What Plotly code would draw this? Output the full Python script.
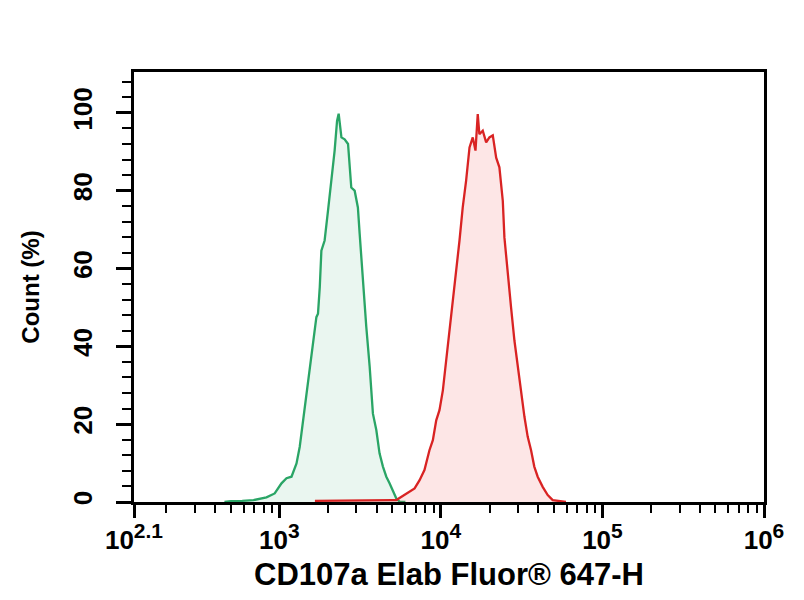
import plotly.graph_objects as go

# histogram outlines, x as log10 of intensity, y in %
green_log = [2.66, 2.70, 2.77, 2.84, 2.92, 2.971, 3.013, 3.044, 3.075, 3.106, 3.126, 3.147, 3.167,
             3.188, 3.208, 3.229, 3.239, 3.250, 3.260, 3.280, 3.301, 3.322, 3.342, 3.357, 3.367,
             3.384, 3.404, 3.425, 3.445, 3.466, 3.486, 3.497, 3.517, 3.538, 3.559, 3.579, 3.600,
             3.620, 3.641, 3.662, 3.682, 3.703, 3.724, 3.744, 3.78]
green_pct = [0.0, 0.2, 0.3, 0.5, 1.2, 2.2, 4.8, 6.1, 6.5, 9.9, 14.2, 21.0, 27.9,
             34.7, 41.5, 47.5, 48.4, 55.2, 64.6, 67.2, 74.9, 82.6, 90.3, 97.9, 99.8,
             93.7, 93.2, 92.0, 80.8, 80.0, 75.7, 68.9, 56.1, 45.0, 34.7, 22.7, 18.5,
             12.5, 9.1, 6.5, 4.8, 2.6, 0.9, 0.1, 0.0]

red_log = [3.22, 3.40, 3.55, 3.70, 3.724, 3.785, 3.837, 3.868, 3.898, 3.929, 3.950, 3.971, 3.991,
           4.012, 4.033, 4.053, 4.074, 4.094, 4.115, 4.135, 4.156, 4.177, 4.197, 4.214, 4.222,
           4.228, 4.238, 4.259, 4.280, 4.300, 4.321, 4.342, 4.362, 4.383, 4.393, 4.413, 4.434,
           4.455, 4.475, 4.496, 4.517, 4.537, 4.558, 4.578, 4.599, 4.630, 4.661, 4.692, 4.733,
           4.774]
red_pct = [0.3, 0.4, 0.6, 0.5, 0.5, 2.2, 3.5, 5.6, 8.2, 13.3, 15.9, 21.0, 23.6,
           28.7, 36.4, 43.2, 51.8, 58.6, 67.2, 75.7, 82.6, 91.1, 93.7, 90.3, 95.4,
           99.7, 94.5, 95.4, 92.4, 93.7, 94.2, 88.5, 86.0, 77.4, 68.0, 58.6, 50.1,
           41.5, 34.7, 27.9, 21.9, 16.8, 13.3, 9.1, 6.5, 3.9, 1.8, 0.5, 0.3,
           0.0]

major_exp = [2.1, 3, 4, 5, 6]
major_sup = ['2.1', '3', '4', '5', '6']
y_ticks = [0, 20, 40, 60, 80, 100]

minor_x = [m * 10 ** d for d in range(2, 6) for m in range(2, 10) if m * 10 ** d > 10 ** 2.1]
major_text = ['10<sup><span style="font-size:21px">%s</span></sup>' % s for s in major_sup]

fig = go.Figure()
fig.add_trace(go.Scatter(x=[10 ** v for v in green_log], y=green_pct, mode='lines',
                         line=dict(color='#2aa566', width=2.3), fill='tozeroy',
                         fillcolor='rgba(47,168,106,0.10)'))
fig.add_trace(go.Scatter(x=[10 ** v for v in red_log], y=red_pct, mode='lines',
                         line=dict(color='#d92323', width=2.3), fill='tozeroy',
                         fillcolor='rgba(240,60,60,0.13)'))

tickfont = dict(family='Liberation Sans', size=26, color='black', weight='bold')
fig.update_layout(
    width=804, height=600,
    margin=dict(l=126, r=48, t=64, b=106),
    plot_bgcolor='white', paper_bgcolor='white',
    showlegend=False,
    xaxis=dict(type='log', range=[2.1, 6],
               tickmode='array', tickvals=[10 ** v for v in major_exp], ticktext=major_text,
               ticks='outside', ticklen=13, tickwidth=2.5, tickcolor='black',
               linecolor='black', linewidth=2.5, mirror=True, showgrid=False, zeroline=False,
               tickfont=tickfont, ticklabelstandoff=0,
               minor=dict(tickmode='array', tickvals=minor_x, ticks='outside', ticklen=8,
                          tickwidth=1.5, tickcolor='black', showgrid=False),
               title=dict(text='CD107a Elab Fluor® 647-H', standoff=10,
                          font=dict(family='Liberation Sans', size=31, color='black', weight='bold'))),
    yaxis=dict(range=[0, 110.5], tickmode='array', tickvals=y_ticks,
               ticks='outside', ticklen=15, tickwidth=2.5, tickcolor='black',
               linecolor='black', linewidth=2.5, mirror=True, showgrid=False, zeroline=False,
               tickfont=tickfont, tickangle=-90, ticklabelstandoff=14,
               minor=dict(dtick=4, ticks='outside', ticklen=9, tickwidth=1.5,
                          tickcolor='black', showgrid=False),
               title=dict(text='Count (%)', standoff=22,
                          font=dict(family='Liberation Sans', size=24, color='black', weight='bold'))),
)

fig.write_html('out.html')
